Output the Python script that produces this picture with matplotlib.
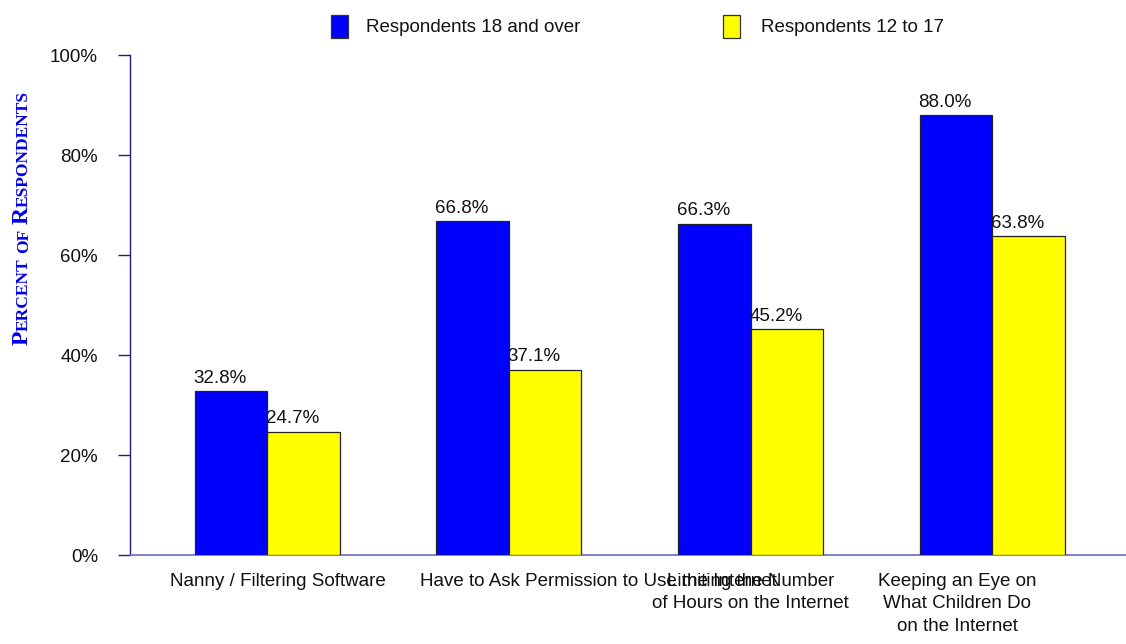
import matplotlib
matplotlib.use("Agg")
import matplotlib.pyplot as plt
import matplotlib.transforms as mtransforms
from matplotlib.patches import Rectangle
from matplotlib import font_manager
import numpy as np

# ---- data ----
categories = [
    "Nanny / Filtering Software",
    "Have to Ask Permission to Use the Internet",
    "Limiting the Number\nof Hours on the Internet",
    "Keeping an Eye on\nWhat Children Do\non the Internet",
]
series_names = ["Respondents 18 and over", "Respondents 12 to 17"]
adults = [32.8, 66.8, 66.3, 88.0]
teens = [24.7, 37.1, 45.2, 63.8]
yticks = [0, 20, 40, 60, 80, 100]
ytick_labels = ["0%", "20%", "40%", "60%", "80%", "100%"]

names = {f.name for f in font_manager.fontManager.ttflist}
SANS = "Liberation Sans Narrow" if "Liberation Sans Narrow" in names else "Liberation Sans"
SERIF = "Liberation Serif"
FS = 13.5

W, H = 1126, 644
fig = plt.figure(figsize=(W / 100, H / 100), dpi=100)
ax = fig.add_axes([130 / W, 1 - 555 / H, (W - 130) / W, 500 / H])

x = np.arange(len(categories))
bw = 0.3
ax.bar(x - bw / 2, adults, bw, color="#0000ff", edgecolor="#222222", linewidth=0.9, zorder=3)
ax.bar(x + bw / 2, teens, bw, color="#ffff00", edgecolor="#222222", linewidth=0.9, zorder=3)

ax.set_xlim(-0.567, 3.553)
ax.set_ylim(0, 100)

for xi, v in zip(x - bw, adults):
    ax.annotate(f"{v:.1f}%", (xi, v), xytext=(-1, 3), textcoords="offset points",
                ha="left", va="bottom", fontsize=FS, family=SANS, color="#111111")
for xi, v in zip(x, teens):
    ax.annotate(f"{v:.1f}%", (xi, v), xytext=(-1, 3), textcoords="offset points",
                ha="left", va="bottom", fontsize=FS, family=SANS, color="#111111")

# spines
for s in ["top", "right"]:
    ax.spines[s].set_visible(False)
ax.spines["left"].set_color("#1c1c7a")
ax.spines["left"].set_linewidth(1.0)
ax.spines["bottom"].set_color("#6a6ac8")
ax.spines["bottom"].set_linewidth(1.2)

ax.set_yticks(yticks)
ax.set_yticklabels(ytick_labels, family=SANS, fontsize=FS, color="#111111")
ax.tick_params(axis="y", length=9, width=1.0, color="#1c1c7a", pad=14)
ax.set_xticks([])

# category labels (positions as in reference)
trans = mtransforms.blended_transform_factory(ax.transData, ax.transAxes)
label_pos = [(0.045, "center"), (0.633, "left"), (2.0, "center"), (2.855, "center")]
for (px, ha), lab in zip(label_pos, categories):
    ax.text(px, -0.036, lab, transform=trans, ha=ha, va="top", fontsize=FS,
            family=SANS, color="#111111", linespacing=1.42, multialignment="center")

# legend (manual)
def fx(p): return p / W
def fy(p): return 1 - p / H
fig.patches.append(Rectangle((fx(331), fy(38)), 17 / W, 23 / H, transform=fig.transFigure,
                             facecolor="#0000ff", edgecolor="#333333", linewidth=0.9))
fig.text(fx(366), fy(27), series_names[0], fontsize=FS, family=SANS, va="center", ha="left", color="#111111")
fig.patches.append(Rectangle((fx(723), fy(38)), 17 / W, 23 / H, transform=fig.transFigure,
                             facecolor="#ffff00", edgecolor="#333333", linewidth=0.9))
fig.text(fx(761), fy(27), series_names[1], fontsize=FS, family=SANS, va="center", ha="left", color="#111111")

# y-axis label in small caps
fig.canvas.draw()
renderer = fig.canvas.get_renderer()
pieces = [("P", 17), ("ERCENT", 12.5), (" ", 0), ("OF", 12.5), (" ", 0), ("R", 17), ("ESPONDENTS", 12.5)]
ypos = H - 345
xbase = 28
for txt, size in pieces:
    if size == 0:
        ypos += 5
        continue
    t = fig.text(xbase / W, ypos / H, txt, rotation=90, rotation_mode="anchor",
                 ha="left", va="baseline", fontsize=size, family=SERIF,
                 fontweight="bold", color="#0000ee")
    bb = t.get_window_extent(renderer)
    ypos += bb.height

fig.savefig("out.png", dpi=100)
